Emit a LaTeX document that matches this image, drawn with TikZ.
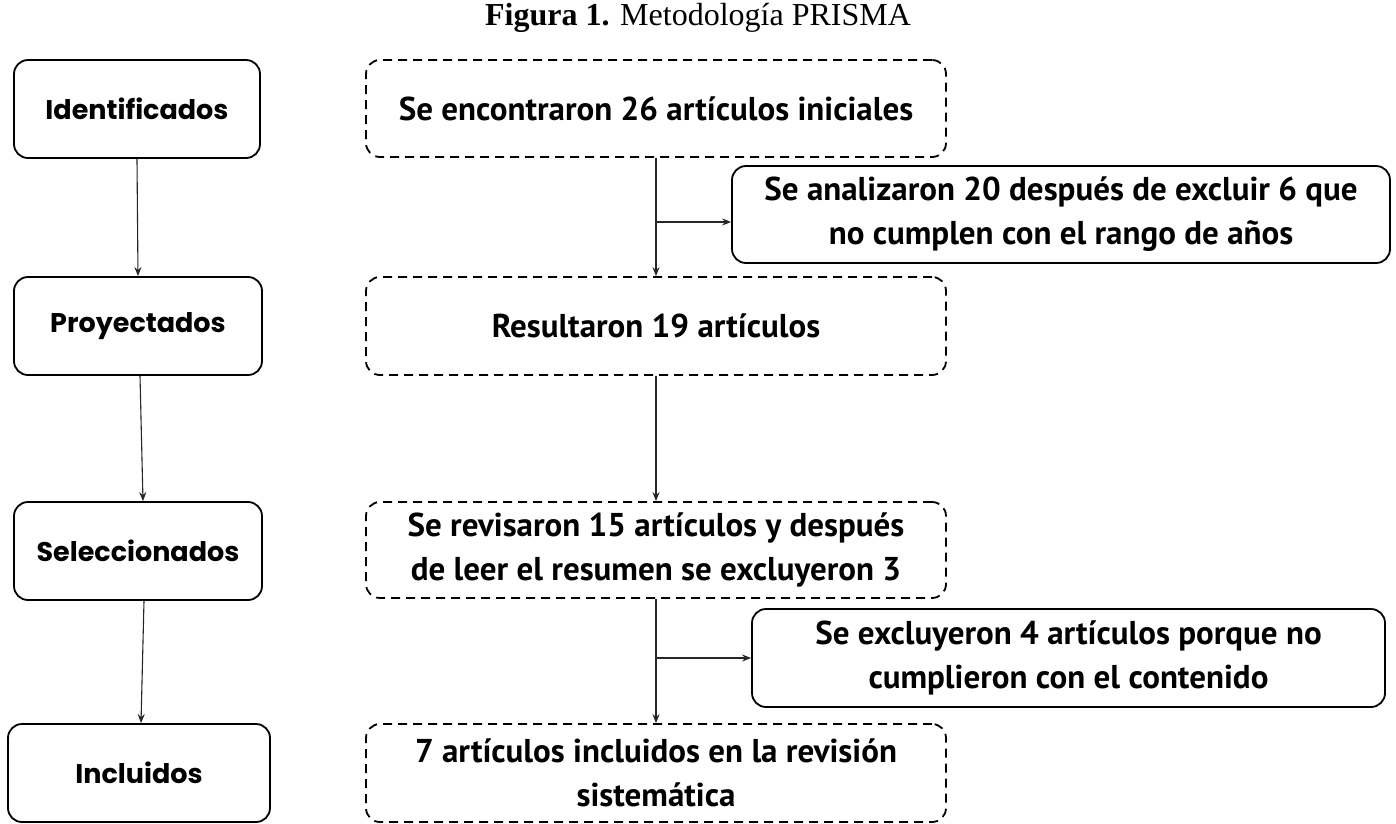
\documentclass[tikz,border=0pt]{standalone}
\usepackage{fontspec}
\setmainfont{Liberation Serif}
\newfontfamily\boxfont{PT Sans}
\newfontfamily\leftfont{Poppins}
\usetikzlibrary{arrows.meta,calc}
\begin{document}
\begin{tikzpicture}[x=1pt,y=-1pt,
  leftbox/.style={draw, line width=1.8pt, rounded corners=14pt, minimum width=246pt, minimum height=98pt, inner sep=0pt, font=\leftfont\bfseries\fontsize{27}{32}\selectfont},
  dbox/.style={draw, line width=1.8pt, dash pattern=on 9pt off 6pt, rounded corners=14pt, minimum width=580pt, minimum height=97pt, inner sep=0pt, align=center, font=\boxfont\bfseries\fontsize{33}{44}\selectfont},
  sbox/.style={draw, line width=1.8pt, rounded corners=14pt, minimum height=97pt, inner sep=0pt, align=center, font=\boxfont\bfseries\fontsize{33}{44}\selectfont},
  arr/.style={draw=black!85, line width=1.1pt, -{Stealth[length=9pt,width=7pt]}}
]
\useasboundingbox (0,0) rectangle (1396,823);
\fill[white] (0,0) rectangle (1396,823);

\node (title) at (698,18) {\fontsize{32}{34}\selectfont\textbf{Figura 1.} Metodología PRISMA};

\node[leftbox] (id) at (137,109) {Identificados};
\node[leftbox, minimum width=248pt] (pr) at (138,326) {Proyectados};
\node[leftbox, minimum width=248pt] (se) at (138,551) {Seleccionados};
\node[leftbox, minimum width=262pt] (inc) at (139,773) {Incluidos};

\node[dbox] (b1) at (656,108.5) {Se encontraron 26 artículos iniciales};
\node[sbox, minimum width=658pt] (an) at (1061,214.5) {Se analizaron 20 después de excluir 6 que\\no cumplen con el rango de años};
\node[dbox, minimum height=98pt] (b2) at (656,326) {Resultaron 19 artículos};
\node[dbox, minimum height=96pt] (b3) at (656,550) {Se revisaron 15 artículos y después\\de leer el resumen se excluyeron 3};
\node[sbox, minimum width=633pt, minimum height=98pt] (ex) at (1068.5,658) {Se excluyeron 4 artículos porque no\\cumplieron con el contenido};
\node[dbox, minimum height=98pt] (b4) at (656,773) {7 artículos incluidos en la revisión\\sistemática};

\draw[arr] (id.south) -- (pr.north);
\draw[arr] ($(pr.south)+(2,0)$) -- ($(se.north)+(5,0)$);
\draw[arr] ($(se.south)+(6,0)$) -- ($(inc.north)+(2,0)$);

\draw[arr] (b1.south) -- (b2.north);
\coordinate (j1) at (656,222);
\draw[arr] (j1) -- (j1 -| an.west);
\draw[arr] (b2.south) -- (b3.north);
\draw[arr] (b3.south) -- (b4.north);
\coordinate (j2) at (656,658);
\draw[arr] (j2) -- (j2 -| ex.west);
\end{tikzpicture}
\end{document}
